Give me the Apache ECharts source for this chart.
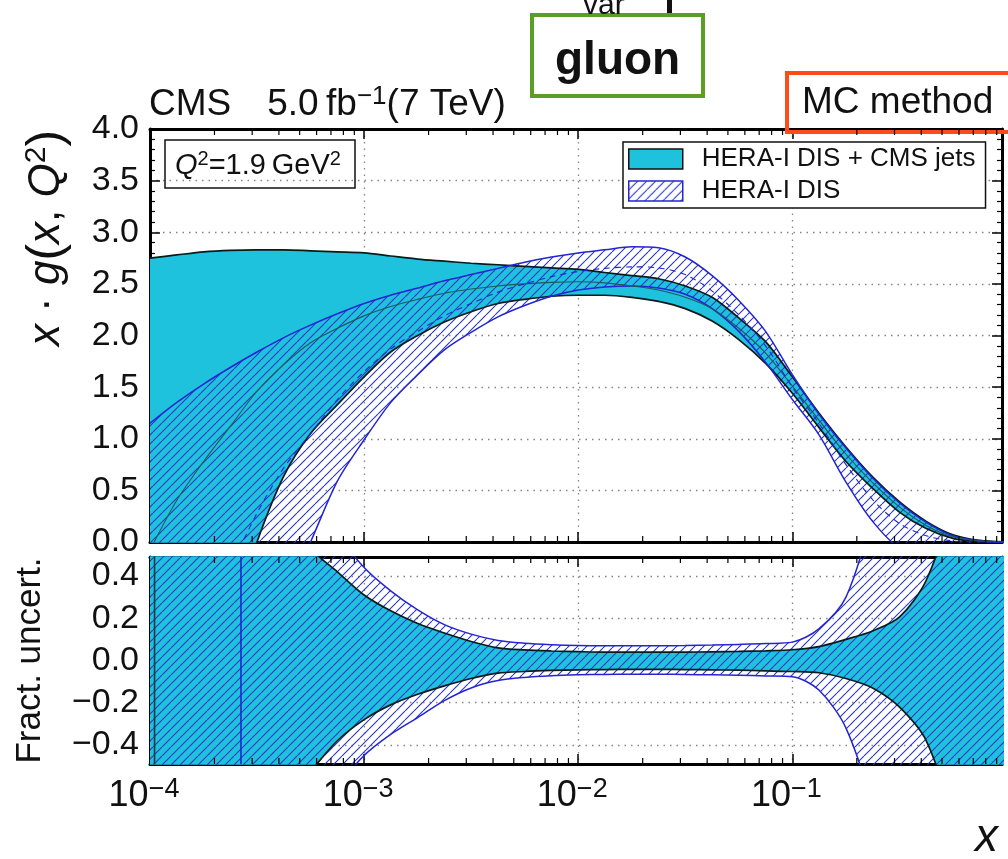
<!DOCTYPE html>
<html>
<head>
<meta charset="utf-8">
<script src="https://cdn.jsdelivr.net/npm/echarts@6/dist/echarts.min.js"></script>
<style>
  html, body { margin: 0; padding: 0; background: #fff; }
  #chart { width: 1008px; height: 859px; }
</style>
</head>
<body>
<div id="chart"></div>
<script>
// Sampling points in x (eighth decades from 1e-4 to 1)
const xGrid = [1.0e-4, 1.33e-4, 1.78e-4, 2.37e-4, 3.16e-4, 4.22e-4, 5.62e-4, 7.50e-4,
               1.0e-3, 1.33e-3, 1.78e-3, 2.37e-3, 3.16e-3, 4.22e-3, 5.62e-3, 7.50e-3,
               1.0e-2, 1.33e-2, 1.78e-2, 2.37e-2, 3.16e-2, 4.22e-2, 5.62e-2, 7.50e-2,
               0.100, 0.133, 0.178, 0.237, 0.316, 0.422, 0.562, 0.750, 1.0];

// x*g(x,Q^2): HERA-I DIS + CMS jets band
const cmsUpper = [2.75, 2.78, 2.81, 2.825, 2.83, 2.83, 2.82, 2.81, 2.80, 2.77, 2.74, 2.72, 2.70, 2.685, 2.67, 2.655,
                  2.64, 2.61, 2.58, 2.55, 2.48, 2.37, 2.17, 1.94, 1.60, 1.25, 0.92, 0.63, 0.39, 0.20, 0.07, 0.015, 0.0];
const cmsLower = [-3.6, -2.6, -1.7, -0.8, 0.0, 0.64, 1.05, 1.33, 1.60, 1.84, 2.00, 2.13, 2.23, 2.31, 2.35, 2.38,
                  2.39, 2.39, 2.37, 2.33, 2.26, 2.14, 1.96, 1.73, 1.44, 1.11, 0.78, 0.52, 0.29, 0.13, 0.035, 0.005, 0.0];
const cmsCentral = [-0.08, 0.40, 0.78, 1.12, 1.46, 1.72, 1.93, 2.07, 2.19, 2.28, 2.35, 2.41, 2.45, 2.48, 2.50, 2.515,
                    2.52, 2.51, 2.48, 2.44, 2.37, 2.26, 2.07, 1.83, 1.51, 1.18, 0.85, 0.575, 0.34, 0.16, 0.05, 0.01, 0.0];

// x*g(x,Q^2): HERA-I DIS only band
const heraUpper = [1.15, 1.35, 1.53, 1.69, 1.84, 1.98, 2.10, 2.21, 2.31, 2.39, 2.46, 2.53, 2.59, 2.65, 2.71, 2.76,
                   2.80, 2.83, 2.86, 2.85, 2.76, 2.58, 2.34, 2.04, 1.62, 1.24, 0.91, 0.62, 0.38, 0.19, 0.06, 0.01, 0.0];
const heraLower = [-5.0, -4.0, -3.0, -2.2, -1.3, -0.55, 0.0, 0.59, 0.99, 1.35, 1.62, 1.86, 2.03, 2.18, 2.29, 2.38,
                   2.44, 2.47, 2.48, 2.46, 2.40, 2.26, 2.04, 1.74, 1.38, 1.04, 0.58, 0.20, -0.05, -0.08, -0.06, -0.02, 0.0];
const heraCentral = [-1.9, -1.3, -0.75, -0.25, 0.28, 0.72, 1.05, 1.38, 1.65, 1.87, 2.04, 2.19, 2.31, 2.42, 2.50, 2.57,
                     2.62, 2.65, 2.665, 2.655, 2.59, 2.43, 2.20, 1.90, 1.50, 1.15, 0.75, 0.41, 0.18, 0.06, 0.01, 0.0, 0.0];

// Fractional uncertainties
const cmsFracUp = [2.0, 1.75, 1.5, 1.2, 0.95, 0.72, 0.53, 0.42, 0.31, 0.235, 0.175, 0.13, 0.09, 0.06, 0.05, 0.045,
                   0.042, 0.04, 0.04, 0.04, 0.04, 0.041, 0.043, 0.046, 0.051, 0.066, 0.10, 0.14, 0.205, 0.38, 0.75, 1.3, 2.0];
const cmsFracLo = [-2.0, -1.75, -1.5, -1.2, -0.95, -0.72, -0.53, -0.38, -0.28, -0.21, -0.16, -0.12, -0.085, -0.06, -0.052, -0.047,
                   -0.044, -0.043, -0.042, -0.042, -0.043, -0.044, -0.046, -0.049, -0.052, -0.058, -0.085, -0.13, -0.22, -0.38, -0.75, -1.3, -2.0];
const heraFracUp = [2.5, 2.3, 2.0, 1.7, 1.4, 1.05, 0.8, 0.6, 0.44, 0.33, 0.24, 0.17, 0.125, 0.095, 0.082, 0.075,
                    0.071, 0.07, 0.07, 0.07, 0.071, 0.073, 0.076, 0.08, 0.087, 0.15, 0.30, 0.7, 1.3, 2.0, 2.5, 2.5, 2.5];
const heraFracLo = [-2.5, -2.3, -2.0, -1.7, -1.4, -1.05, -0.8, -0.6, -0.45, -0.35, -0.27, -0.19, -0.13, -0.095, -0.08, -0.072,
                    -0.068, -0.066, -0.065, -0.065, -0.066, -0.068, -0.07, -0.073, -0.077, -0.14, -0.32, -0.7, -1.3, -2.0, -2.5, -2.5, -2.5];

// Where the central fits cross zero (fractional uncertainty diverges)
const cmsZeroX = 1.05e-4;
const heraZeroX = 2.66e-4;
const fracRange = [-0.49, 0.49];

// Axis ranges and tick labels
const xMin = 1e-4, xMax = 0.953;
const pdfTicks = [0, 0.5, 1.0, 1.5, 2.0, 2.5, 3.0, 3.5, 4.0];
const legendNames = ['HERA-I DIS + CMS jets', 'HERA-I DIS'];

const FONT = '"Liberation Sans", Arial, Helvetica, sans-serif';
const INK = '#111';
const CYAN = '#1ec2dc';
const BLUE = '#2424d4';
const HATCH = '#2a36c6';
const SMOOTH = 0.3;

function makeHatch(color, size) {
  const c = document.createElement('canvas');
  c.width = size; c.height = size;
  const g = c.getContext('2d');
  g.strokeStyle = color; g.lineWidth = 1.1;
  g.beginPath();
  for (const k of [-size, 0, size]) { g.moveTo(k, size); g.lineTo(k + size, 0); }
  g.stroke();
  return c;
}
const hatchFill = { image: makeHatch(HATCH, 9), repeat: 'repeat' };

// Value listed first so that stacking accumulates along y (encode maps it back)
const zipYX = (xs, ys) => xs.map((x, i) => [ys[i], x]);
const zip = (xs, ys) => xs.map((x, i) => [x, ys[i]]);
const diff = (a, b) => a.map((v, i) => v - b[i]);

// log-decade minor tick positions (2..9 x 10^n)
const minorTickX = [];
for (let d = -4; d <= -1; d++) {
  for (let k = 2; k <= 9; k++) {
    const v = k * Math.pow(10, d);
    if (v < xMax) minorTickX.push(v);
  }
}

const gridLine = { show: true, lineStyle: { color: '#858585', width: 1.3, type: [1.5, 5] } };
const frame = { show: true, onZero: false, lineStyle: { color: '#000', width: 3 } };
const majorTick = { show: true, inside: true, length: 10, lineStyle: { color: '#000', width: 1.5 } };

function xAxisCfg(gridIndex, position, labels) {
  return {
    type: 'log', logBase: 10, gridIndex, position, min: xMin, max: xMax,
    axisLine: frame, axisTick: majorTick,
    splitLine: position === 'bottom' ? gridLine : { show: false },
    axisLabel: labels ? {
      show: true, margin: 12, color: INK,
      formatter: v => {
        const l = Math.log10(v), e = Math.round(l);
        if (Math.abs(l - e) > 1e-6) return '';
        return '{b|10}{s|\u2212' + (-e) + '}';
      },
      rich: {
        b: { fontSize: 36, fontFamily: FONT, color: INK },
        s: { fontSize: 27, fontFamily: FONT, color: INK, padding: [0, 12, 13, 0] }
      }
    } : { show: false }
  };
}

function minorTickItem(params, api) {
  const cs = params.coordSys;
  const px = api.coord([api.value(0), api.value(1)])[0];
  const st = { stroke: '#000', lineWidth: 1.2 };
  return {
    type: 'group', children: [
      { type: 'line', shape: { x1: px, y1: cs.y, x2: px, y2: cs.y + 6 }, style: st },
      { type: 'line', shape: { x1: px, y1: cs.y + cs.height, x2: px, y2: cs.y + cs.height - 6 }, style: st }
    ]
  };
}

const fmtSigned = v => (v < 0 ? '\u2212' : '') + Math.abs(v).toFixed(1);

function band(name, stack, xi, yi, lo, hi, fill, edge, edgeWidth) {
  const common = { type: 'line', xAxisIndex: xi, yAxisIndex: yi, stack, stackStrategy: 'all',
                   encode: { x: 1, y: 0 }, smooth: SMOOTH, showSymbol: false, silent: true };
  return [
    Object.assign({ name: name + ' low', data: zipYX(xGrid, lo),
      lineStyle: { color: edge, width: edgeWidth }, itemStyle: { color: edge } }, common),
    Object.assign({ name, data: zipYX(xGrid, diff(hi, lo)),
      areaStyle: { color: fill, opacity: 1 },
      lineStyle: { color: edge, width: edgeWidth }, itemStyle: { color: fill } }, common)
  ];
}

// vertical line where a fractional uncertainty flips sign
function zeroLine(name, x, color) {
  return { name, type: 'line', xAxisIndex: 2, yAxisIndex: 2, silent: true, showSymbol: false,
           data: [[x, fracRange[0]], [x, fracRange[1]]], lineStyle: { color, width: 1.6 } };
}

const plain = { fontWeight: 'normal', fontFamily: FONT, color: INK };

const option = {
  animation: false,
  backgroundColor: '#fff',
  title: [
    { text: '{a|CMS}{g|}{a|5.0\u2009fb}{s|\u22121}{a|(7 TeV)}', left: 149, top: 84, padding: 0,
      textStyle: Object.assign({ rich: {
        a: Object.assign({ fontSize: 37, lineHeight: 40 }, plain),
        g: { width: 36 },
        s: Object.assign({ fontSize: 26, padding: [0, 0, 16, 0] }, plain) } }, plain) },
    { text: 'MC method', left: 787, top: 73, padding: [11, 40, 10, 15],
      borderColor: '#ff4a1c', borderWidth: 4,
      textStyle: Object.assign({ fontSize: 37, lineHeight: 38 }, plain) },
    { text: 'gluon', left: 532, top: 15, padding: [21, 23, 10, 23],
      borderColor: '#5b9e25', borderWidth: 4,
      textStyle: { fontSize: 46, fontFamily: FONT, color: INK, fontWeight: 'bold', lineHeight: 50 } },
    { text: 'var', left: 583, top: -9, padding: 0,
      textStyle: Object.assign({ fontSize: 30 }, plain) },
    { text: '{i|Q}{s|2}{n|=1.9\u2009GeV}{s|2}', left: 165, top: 140, padding: [9, 14, 8, 10],
      borderColor: INK, borderWidth: 1.5,
      textStyle: Object.assign({ rich: {
        i: Object.assign({ fontSize: 29, fontStyle: 'italic', lineHeight: 30 }, plain),
        n: Object.assign({ fontSize: 29, lineHeight: 30 }, plain),
        s: Object.assign({ fontSize: 20, padding: [0, 0, 14, 0] }, plain) } }, plain) },
    { text: '{i|x}', left: 975, top: 815, padding: 0,
      textStyle: Object.assign({ rich: { i: Object.assign({ fontSize: 46, fontStyle: 'italic' }, plain) } }, plain) }
  ],
  graphic: [
    { type: 'text', x: 47, y: 238, rotation: Math.PI / 2, silent: true,
      style: {
        text: '{i|x}{n| \u00b7 }{i|g}{p|(}{i|x}{n|, }{i|Q}{s|2}{p|)}',
        align: 'center', verticalAlign: 'middle',
        rich: {
          i: { fontSize: 44, fontStyle: 'italic', fontFamily: FONT, fill: INK },
          n: { fontSize: 44, fontFamily: FONT, fill: INK },
          p: { fontSize: 50, fontFamily: FONT, fill: INK },
          s: { fontSize: 30, fontFamily: FONT, fill: INK, padding: [0, 0, 20, 0] }
        }
      } },
    { type: 'rect', shape: { x: 667, y: 0, width: 5, height: 15 }, style: { fill: INK }, silent: true }
  ],
  legend: {
    orient: 'vertical', left: 623, top: 142, itemWidth: 54, itemHeight: 20, itemGap: 6,
    padding: [4, 10, 4, 5], borderColor: INK, borderWidth: 1.5, selectedMode: false,
    backgroundColor: '#fff',
    textStyle: { fontSize: 26, color: INK, fontFamily: FONT, lineHeight: 26, padding: [0, 0, 0, 14] },
    data: [
      { name: legendNames[0], icon: 'rect', itemStyle: { color: CYAN, borderColor: INK, borderWidth: 1.5 } },
      { name: legendNames[1], icon: 'rect', itemStyle: { color: hatchFill, borderColor: BLUE, borderWidth: 1.5 } }
    ]
  },
  grid: [
    { left: 150, top: 129, width: 852, height: 413 },
    { left: 150, top: 557, width: 852, height: 207 }
  ],
  xAxis: [
    xAxisCfg(0, 'bottom', false),
    xAxisCfg(0, 'top', false),
    xAxisCfg(1, 'bottom', true),
    xAxisCfg(1, 'top', false)
  ],
  yAxis: [
    { type: 'value', gridIndex: 0, position: 'left', min: pdfTicks[0], max: pdfTicks[pdfTicks.length - 1], interval: 0.5,
      axisLine: frame, axisTick: majorTick,
      minorTick: { show: true, splitNumber: 5, length: 5, lineStyle: { color: '#000', width: 1.2 } },
      splitLine: gridLine,
      axisLabel: { fontSize: 34, fontFamily: FONT, color: INK, margin: 11, formatter: v => v.toFixed(1) } },
    { type: 'value', gridIndex: 0, position: 'right', min: 0, max: 4, interval: 0.5,
      axisLine: frame, axisTick: majorTick,
      minorTick: { show: true, splitNumber: 5, length: 5, lineStyle: { color: '#000', width: 1.2 } },
      splitLine: { show: false }, axisLabel: { show: false } },
    { type: 'value', gridIndex: 1, position: 'left', min: fracRange[0], max: fracRange[1], splitNumber: 5,
      axisLine: frame, axisTick: majorTick,
      minorTick: { show: true, splitNumber: 4, length: 5, lineStyle: { color: '#000', width: 1.2 } },
      splitLine: gridLine,
      name: 'Fract. uncert.', nameLocation: 'middle', nameRotate: 90, nameGap: 102,
      nameTextStyle: { fontSize: 35, fontFamily: FONT, color: INK },
      axisLabel: { fontSize: 34, fontFamily: FONT, color: INK, margin: 11, showMinLabel: false, showMaxLabel: false,
                   formatter: fmtSigned } },
    { type: 'value', gridIndex: 1, position: 'right', min: fracRange[0], max: fracRange[1], splitNumber: 5,
      axisLine: frame, axisTick: majorTick,
      minorTick: { show: true, splitNumber: 4, length: 5, lineStyle: { color: '#000', width: 1.2 } },
      splitLine: { show: false }, axisLabel: { show: false } }
  ],
  series: [
    // upper panel
    ...band(legendNames[0], 'cmsTop', 0, 0, cmsLower, cmsUpper, CYAN, '#0b1a1a', 1.7),
    ...band(legendNames[1], 'heraTop', 0, 0, heraLower, heraUpper, hatchFill, BLUE, 1.5),
    { name: 'CMS central', type: 'line', xAxisIndex: 0, yAxisIndex: 0, data: zip(xGrid, cmsCentral),
      smooth: SMOOTH, showSymbol: false, silent: true, lineStyle: { color: '#1d5a5a', width: 1.1 } },
    { name: 'HERA central', type: 'line', xAxisIndex: 0, yAxisIndex: 0, data: zip(xGrid, heraCentral),
      smooth: SMOOTH, showSymbol: false, silent: true, lineStyle: { color: BLUE, width: 1.1, type: [6, 5] } },
    // lower panel
    ...band('cms fract', 'cmsFrac', 2, 2, cmsFracLo, cmsFracUp, CYAN, '#0b1a1a', 1.7),
    ...band('hera fract', 'heraFrac', 2, 2, heraFracLo, heraFracUp, hatchFill, BLUE, 1.5),
    zeroLine('CMS zero', cmsZeroX, '#0d3b3b'),
    zeroLine('HERA zero', heraZeroX, BLUE),
    // minor log ticks on both panels
    { type: 'custom', xAxisIndex: 0, yAxisIndex: 0, silent: true, z: 10,
      data: minorTickX.map(v => [v, 1]), renderItem: minorTickItem },
    { type: 'custom', xAxisIndex: 2, yAxisIndex: 2, silent: true, z: 10,
      data: minorTickX.map(v => [v, 0]), renderItem: minorTickItem }
  ]
};

const chart = echarts.init(document.getElementById('chart'), null, { renderer: 'canvas' });
chart.setOption(option);
</script>
</body>
</html>
